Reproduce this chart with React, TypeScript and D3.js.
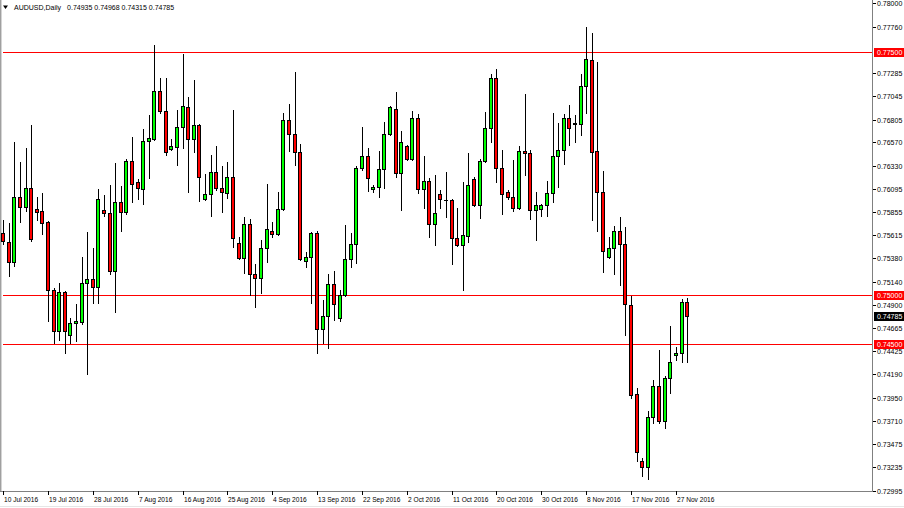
import React from "react";
import * as d3 from "d3";

const symbolTitle = "AUDUSD,Daily";
const headerValues = ["0.74935", "0.74968", "0.74315", "0.74785"];

const openV = [
  0.7564, 0.7555, 0.7534, 0.7601, 0.7591, 0.7610, 0.7589, 0.7587, 0.7575, 0.7505,
  0.7463, 0.7503, 0.7459, 0.7472, 0.7473, 0.7513, 0.7517, 0.7509, 0.7588, 0.7585,
  0.7525, 0.7596, 0.7586, 0.7638, 0.7616, 0.7609, 0.7659, 0.7661, 0.7710, 0.7689,
  0.7650, 0.7652, 0.7673, 0.7693, 0.7661, 0.7675, 0.7599, 0.7604, 0.7627, 0.7610,
  0.7605, 0.7622, 0.7554, 0.7538, 0.7573, 0.7522, 0.7518, 0.7549, 0.7566, 0.7563,
  0.7589, 0.7680, 0.7666, 0.7647, 0.7535, 0.7539, 0.7564, 0.7465, 0.7479, 0.7512,
  0.7477, 0.7500, 0.7537, 0.7553, 0.7631, 0.7643, 0.7609, 0.7611, 0.7630, 0.7666,
  0.7691, 0.7626, 0.7653, 0.7640, 0.7682, 0.7609, 0.7617, 0.7573, 0.7604, 0.7598,
  0.7598, 0.7559, 0.7552, 0.7561, 0.7619, 0.7593, 0.7638, 0.7672, 0.7723, 0.7631,
  0.7606, 0.7601, 0.7590, 0.7648, 0.7646, 0.7588, 0.7589, 0.7593, 0.7605, 0.7643,
  0.7649, 0.7682, 0.7677, 0.7676, 0.7715, 0.7742, 0.7648, 0.7606, 0.7539, 0.7549,
  0.7566, 0.7553, 0.7490, 0.7399, 0.7330, 0.7324, 0.7375, 0.7407, 0.7371, 0.7415,
  0.7439, 0.7441, 0.74935,
];
const highV = [
  0.7577, 0.7574, 0.7657, 0.7637, 0.7651, 0.7675, 0.7601, 0.7605, 0.7576, 0.7508,
  0.7513, 0.7504, 0.7477, 0.7491, 0.7539, 0.7565, 0.7549, 0.7609, 0.7603, 0.7613,
  0.7636, 0.7612, 0.7640, 0.7663, 0.7619, 0.7671, 0.7685, 0.7757, 0.7723, 0.7723,
  0.7661, 0.7690, 0.7748, 0.7704, 0.7721, 0.7676, 0.7625, 0.7644, 0.7653, 0.7633,
  0.7637, 0.7690, 0.7560, 0.7580, 0.7578, 0.7532, 0.7557, 0.7614, 0.7575, 0.7606,
  0.7687, 0.7697, 0.7729, 0.7655, 0.7544, 0.7565, 0.7566, 0.7495, 0.7522, 0.7525,
  0.7505, 0.7572, 0.7564, 0.7633, 0.7673, 0.7651, 0.7613, 0.7648, 0.7678, 0.7694,
  0.7709, 0.7669, 0.7654, 0.7689, 0.7686, 0.7643, 0.7621, 0.7624, 0.7608, 0.7627,
  0.7599, 0.7590, 0.7616, 0.7646, 0.7622, 0.7640, 0.7688, 0.7727, 0.7732, 0.7649,
  0.7608, 0.7639, 0.7653, 0.7707, 0.7649, 0.7606, 0.7594, 0.7617, 0.7687, 0.7677,
  0.7686, 0.7696, 0.7685, 0.7727, 0.7776, 0.7770, 0.7740, 0.7628, 0.7560, 0.7571,
  0.7580, 0.7570, 0.7499, 0.7405, 0.7333, 0.7381, 0.7413, 0.7444, 0.7417, 0.7468,
  0.7447, 0.7496, 0.74968,
];
const lowV = [
  0.7553, 0.7520, 0.7530, 0.7575, 0.7587, 0.7556, 0.7577, 0.7563, 0.7474, 0.7451,
  0.7454, 0.7441, 0.7451, 0.7453, 0.7471, 0.7419, 0.7492, 0.7492, 0.7582, 0.7522,
  0.7483, 0.7566, 0.7584, 0.7596, 0.7599, 0.7594, 0.7621, 0.7660, 0.7687, 0.7644,
  0.7649, 0.7634, 0.7651, 0.7606, 0.7647, 0.7597, 0.7598, 0.7581, 0.7608, 0.7586,
  0.7600, 0.7550, 0.7537, 0.7523, 0.7500, 0.7488, 0.7502, 0.7534, 0.7560, 0.7562,
  0.7588, 0.7648, 0.7634, 0.7536, 0.7529, 0.7492, 0.7441, 0.7451, 0.7446, 0.7475,
  0.7474, 0.7499, 0.7529, 0.7533, 0.7629, 0.7607, 0.7606, 0.7601, 0.7610, 0.7665,
  0.7622, 0.7588, 0.7639, 0.7639, 0.7605, 0.7590, 0.7560, 0.7552, 0.7590, 0.7580,
  0.7532, 0.7551, 0.7505, 0.7555, 0.7592, 0.7579, 0.7637, 0.7658, 0.7616, 0.7584,
  0.7599, 0.7587, 0.7589, 0.7624, 0.7578, 0.7557, 0.7582, 0.7582, 0.7596, 0.7611,
  0.7635, 0.7654, 0.7657, 0.7665, 0.7687, 0.7577, 0.7566, 0.7524, 0.7538, 0.7522,
  0.7511, 0.7459, 0.7395, 0.7330, 0.7314, 0.7311, 0.7369, 0.7369, 0.7364, 0.7400,
  0.7434, 0.7432, 0.74315,
];
const closeV = [
  0.7556, 0.7534, 0.7601, 0.7591, 0.7610, 0.7558, 0.7586, 0.7574, 0.7505, 0.7463,
  0.7503, 0.7463, 0.7472, 0.7474, 0.7513, 0.7517, 0.7509, 0.7599, 0.7585, 0.7525,
  0.7596, 0.7586, 0.7638, 0.7614, 0.7610, 0.7659, 0.7662, 0.7710, 0.7689, 0.7647,
  0.7653, 0.7673, 0.7694, 0.7661, 0.7675, 0.7622, 0.7604, 0.7627, 0.7610, 0.7606,
  0.7622, 0.7559, 0.7538, 0.7573, 0.7522, 0.7518, 0.7549, 0.7568, 0.7563, 0.7589,
  0.7680, 0.7666, 0.7647, 0.7537, 0.7539, 0.7564, 0.7465, 0.7479, 0.7512, 0.7491,
  0.7500, 0.7537, 0.7553, 0.7631, 0.7643, 0.7621, 0.7611, 0.7630, 0.7666, 0.7693,
  0.7626, 0.7657, 0.7640, 0.7682, 0.7609, 0.7617, 0.7573, 0.7585, 0.7599, 0.7598,
  0.7559, 0.7552, 0.7562, 0.7613, 0.7593, 0.7638, 0.7672, 0.7723, 0.7631, 0.7604,
  0.7601, 0.7590, 0.7648, 0.7646, 0.7588, 0.7593, 0.7593, 0.7605, 0.7643, 0.7649,
  0.7682, 0.7672, 0.7676, 0.7715, 0.7743, 0.7647, 0.7606, 0.7546, 0.7549, 0.7566,
  0.7553, 0.7491, 0.7398, 0.7339, 0.7324, 0.7375, 0.7407, 0.7371, 0.7415, 0.7432,
  0.7441, 0.7493, 0.74785,
];

const dateTickLabels = [
  "10 Jul 2016", "19 Jul 2016", "28 Jul 2016", "7 Aug 2016", "16 Aug 2016",
  "25 Aug 2016", "4 Sep 2016", "13 Sep 2016", "22 Sep 2016", "2 Oct 2016",
  "11 Oct 2016", "20 Oct 2016", "30 Oct 2016", "8 Nov 2016", "17 Nov 2016",
  "27 Nov 2016",
];
const dateTickBars = [0, 8, 16, 24, 32, 40, 48, 56, 64, 72, 80, 88, 96, 104, 112, 120];

const priceTicks = [
  0.78, 0.7776, 0.77285, 0.77045, 0.76805, 0.7657, 0.7633, 0.76095, 0.75855,
  0.75615, 0.7538, 0.7514, 0.749, 0.74665, 0.74425, 0.7419, 0.7395, 0.7371,
  0.73475, 0.73235, 0.72995,
];
const levelLines = [0.775, 0.75, 0.745];
const lastPrice = 0.74785;

const W = 904;
const H = 508;
const plotRight = 872;
const plotBottom = 491;
const FONT = "'Liberation Sans', Arial, sans-serif";

export default function App() {
  const n = openV.length;
  const x = d3.scaleLinear().domain([0, 120]).range([3.1, 675.9]);
  const y = d3.scaleLinear().domain([0.72995, 0.78]).range([490.5, 3.3]);
  const fmt = d3.format(".5f");

  const candles = d3.range(n).map((i) => {
    const c = Math.round(x(i));
    const o = openV[i];
    const cl = closeV[i];
    const bull = cl >= o;
    const top = Math.round(y(Math.max(o, cl)));
    const bot = Math.round(y(Math.min(o, cl)));
    const yh = Math.round(y(highV[i]));
    const yl = Math.round(y(lowV[i]));
    return (
      <g key={i}>
        <line x1={c + 0.5} x2={c + 0.5} y1={yh} y2={yl + 1} stroke="#000" strokeWidth={1} />
        {bot - top >= 1 ? (
          <rect
            x={c - 1.5}
            y={top + 0.5}
            width={3}
            height={bot - top}
            fill={bull ? "#00ff00" : "#ff0000"}
            stroke="#000"
            strokeWidth={1}
          />
        ) : (
          <line x1={c - 2} x2={c + 2} y1={top + 0.5} y2={top + 0.5} stroke="#000" />
        )}
      </g>
    );
  });

  return (
    <svg
      width={W}
      height={H}
      style={{ position: "absolute", left: 0, top: 0, background: "#fff" }}
      fontFamily={FONT}
    >
      <rect x={0} y={0} width={W} height={H} fill="#fff" />
      {/* left border */}
      <line x1={0.5} x2={0.5} y1={0} y2={plotBottom} stroke="#a0a0a0" />
      <line x1={1.5} x2={1.5} y1={0} y2={plotBottom} stroke="#d4d4d4" />
      {/* frame */}
      <line x1={plotRight + 0.5} x2={plotRight + 0.5} y1={0} y2={plotBottom + 1} stroke="#808080" />
      <line x1={0} x2={plotRight + 1} y1={plotBottom + 0.5} y2={plotBottom + 0.5} stroke="#808080" />

      {/* level lines */}
      {levelLines.map((lv) => (
        <line
          key={lv}
          x1={3}
          x2={plotRight}
          y1={Math.round(y(lv)) + 0.5}
          y2={Math.round(y(lv)) + 0.5}
          stroke="#ff0000"
        />
      ))}

      {candles}

      {/* price axis */}
      {priceTicks.map((p) => {
        const yy = Math.round(y(p));
        return (
          <g key={p}>
            <line x1={plotRight + 1} x2={plotRight + 4} y1={yy + 0.5} y2={yy + 0.5} stroke="#000" />
            <text x={877} y={yy + 3} fontSize={7} fill="#000">
              {fmt(p)}
            </text>
          </g>
        );
      })}
      {levelLines.map((lv) => {
        const yy = Math.round(y(lv));
        return (
          <g key={"lb" + lv}>
            <rect x={874} y={yy - 4} width={30} height={9} fill="#ff0000" />
            <text x={877} y={yy + 3} fontSize={7} fill="#fff">
              {fmt(lv)}
            </text>
          </g>
        );
      })}
      <g>
        <rect x={874} y={Math.round(y(lastPrice)) - 4} width={30} height={9} fill="#000" />
        <text x={877} y={Math.round(y(lastPrice)) + 3} fontSize={7} fill="#fff">
          {fmt(lastPrice)}
        </text>
      </g>

      {/* date axis */}
      {dateTickBars.map((b, k) => {
        const xx = Math.round(x(b));
        return (
          <g key={b}>
            <line x1={xx + 0.5} x2={xx + 0.5} y1={plotBottom} y2={plotBottom + 4} stroke="#000" />
            <text x={xx + 1} y={502} fontSize={6.6} fill="#000">
              {dateTickLabels[k]}
            </text>
          </g>
        );
      })}
      <line x1={0} x2={W} y1={506.5} y2={506.5} stroke="#e6e6e6" />

      {/* header */}
      <path d="M3,5.5 L8,5.5 L5.5,9 Z" fill="#000" />
      <text x={14} y={10} fontSize={7} fill="#000">
        {symbolTitle}
        <tspan dx={6}>{headerValues.join(" ")}</tspan>
      </text>
    </svg>
  );
}
